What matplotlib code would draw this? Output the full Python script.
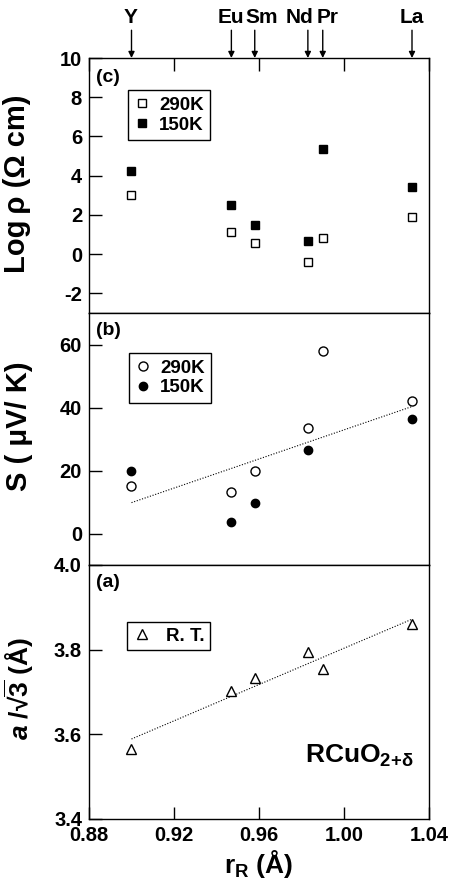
import matplotlib
matplotlib.use("Agg")
import matplotlib.pyplot as plt

plt.rcParams['font.family'] = ['Liberation Sans', 'DejaVu Sans']
plt.rcParams['font.weight'] = 'bold'
plt.rcParams['axes.labelweight'] = 'bold'
plt.rcParams['axes.unicode_minus'] = False
plt.rcParams['mathtext.fontset'] = 'custom'
plt.rcParams['mathtext.rm'] = 'Liberation Sans:bold'
plt.rcParams['mathtext.it'] = 'Liberation Sans:italic:bold'
plt.rcParams['mathtext.bf'] = 'Liberation Sans:bold'

# ionic radii of the rare earths
elements = ['Y', 'Eu', 'Sm', 'Nd', 'Pr', 'La']
r_R = [0.900, 0.947, 0.958, 0.983, 0.990, 1.032]

# (c) resistivity
logrho_290 = [3.03, 1.13, 0.55, -0.39, 0.82, 1.90]
logrho_150 = [4.26, 2.50, 1.50, 0.67, 5.35, 3.40]

# (b) thermopower (no 150K point for Pr)
S_290 = [15.0, 13.3, 20.0, 33.4, 58.0, 42.1]
r_150 = [0.900, 0.947, 0.958, 0.983, 1.032]
S_150 = [19.7, 3.7, 9.8, 26.4, 36.4]
S_fit_x = [0.900, 1.032]
S_fit_y = [9.8, 40.3]

# (a) lattice parameter
a_rt = [3.565, 3.702, 3.733, 3.794, 3.755, 3.860]
a_fit_x = [0.900, 1.032]
a_fit_y = [3.589, 3.872]

fig = plt.figure(figsize=(4.51, 8.90), dpi=100)
L, W = 89 / 451, 340 / 451
axc = fig.add_axes([L, 1 - 313 / 890, W, 255 / 890])
axb = fig.add_axes([L, 1 - 565 / 890, W, 252 / 890])
axa = fig.add_axes([L, 1 - 819 / 890, W, 254 / 890])

for ax in (axc, axb, axa):
    ax.set_xlim(0.88, 1.04)
    ax.tick_params(direction='in', length=9, width=1, labelsize=14.5, pad=5,
                   top=False, bottom=False, labelbottom=False, right=False)
    for s in ax.spines.values():
        s.set_linewidth(1)
axc.tick_params(top=True)
axa.tick_params(bottom=True, labelbottom=True)
axa.set_xticks([0.88, 0.92, 0.96, 1.00, 1.04])
axa.set_xticklabels(['0.88', '0.92', '0.96', '1.00', '1.04'])
axc.set_xticks([0.88, 0.92, 0.96, 1.00, 1.04])
axb.set_xticks([])

leg_kw = dict(loc='upper left', borderaxespad=0, fancybox=False, edgecolor='k',
              framealpha=1, fontsize=13.5, handlelength=0.8, handletextpad=0.5,
              borderpad=0.35, labelspacing=0.15)

# (c)
axc.plot(r_R, logrho_290, 's', ms=6, mfc='white', mec='k', mew=1, label='290K')
axc.plot(r_R, logrho_150, 's', ms=6, mfc='k', mec='k', label='150K')
axc.set_ylim(-3, 10)
axc.set_yticks([-2, 0, 2, 4, 6, 8, 10])
axc.set_ylabel('Log\u2009ρ (Ω cm)', fontsize=21)
axc.text(0.022, 0.925, '(c)', transform=axc.transAxes, fontsize=14, va='center')
axc.legend(bbox_to_anchor=(0.115, 0.875), **leg_kw).get_frame().set_linewidth(1)

# (b)
axb.plot(S_fit_x, S_fit_y, color='k', lw=0.8, ls=(0, (1, 1.5)))
axb.plot(r_R, S_290, 'o', ms=6.5, mfc='white', mec='k', mew=1, label='290K')
axb.plot(r_150, S_150, 'o', ms=6, mfc='k', mec='k', label='150K')
axb.set_ylim(-10, 70)
axb.set_yticks([0, 20, 40, 60])
axb.set_ylabel('S ( μV/ K)', fontsize=21)
axb.text(0.022, 0.93, '(b)', transform=axb.transAxes, fontsize=14, va='center')
axb.legend(bbox_to_anchor=(0.118, 0.842), **leg_kw).get_frame().set_linewidth(1)

# (a)
axa.plot(a_fit_x, a_fit_y, color='k', lw=0.8, ls=(0, (1, 1.5)))
axa.plot(r_R, a_rt, '^', ms=7.5, mfc='white', mec='k', mew=1, label='R. T.')
axa.set_ylim(3.4, 4.0)
axa.set_yticks([3.4, 3.6, 3.8, 4.0])
axa.set_yticklabels(['3.4', '3.6', '3.8', '4.0'])
axa.set_ylabel(r'$\mathit{a}$ /√$\overline{\mathregular{3}}$ (Å)', fontsize=19)
axa.set_xlabel(r'r$_\mathregular{R}$ (Å)', fontsize=19, labelpad=2)
axa.text(0.022, 0.93, '(a)', transform=axa.transAxes, fontsize=14, va='center')
axa.text(0.955, 0.22, r'RCuO$_\mathregular{2{+}δ}$', transform=axa.transAxes,
         fontsize=19, ha='right', va='baseline')
leg_a = dict(leg_kw, handlelength=1.0, handletextpad=0.8, borderpad=0.3)
axa.legend(bbox_to_anchor=(0.111, 0.776), **leg_a).get_frame().set_linewidth(1)

axc.yaxis.set_label_coords(-0.17, 0.505)
axb.yaxis.set_label_coords(-0.165, 0.55)
axa.yaxis.set_label_coords(-0.155, 0.515)

# element markers on top
nudge = [-1, 0, 7, -8, 5, 0]
for el, x, dx in zip(elements, r_R, nudge):
    axc.annotate('', xy=(x, 1.0), xycoords=('data', 'axes fraction'),
                 xytext=(0, 20), textcoords='offset points',
                 arrowprops=dict(arrowstyle='-|>', color='k', lw=1,
                                 mutation_scale=9, shrinkA=0, shrinkB=0),
                 annotation_clip=False)
    axc.annotate(el, xy=(x, 1.0), xycoords=('data', 'axes fraction'),
                 xytext=(dx * 0.72, 29.5), textcoords='offset points',
                 ha='center', va='center', fontsize=15, annotation_clip=False)

fig.savefig('out.png', dpi=100)
